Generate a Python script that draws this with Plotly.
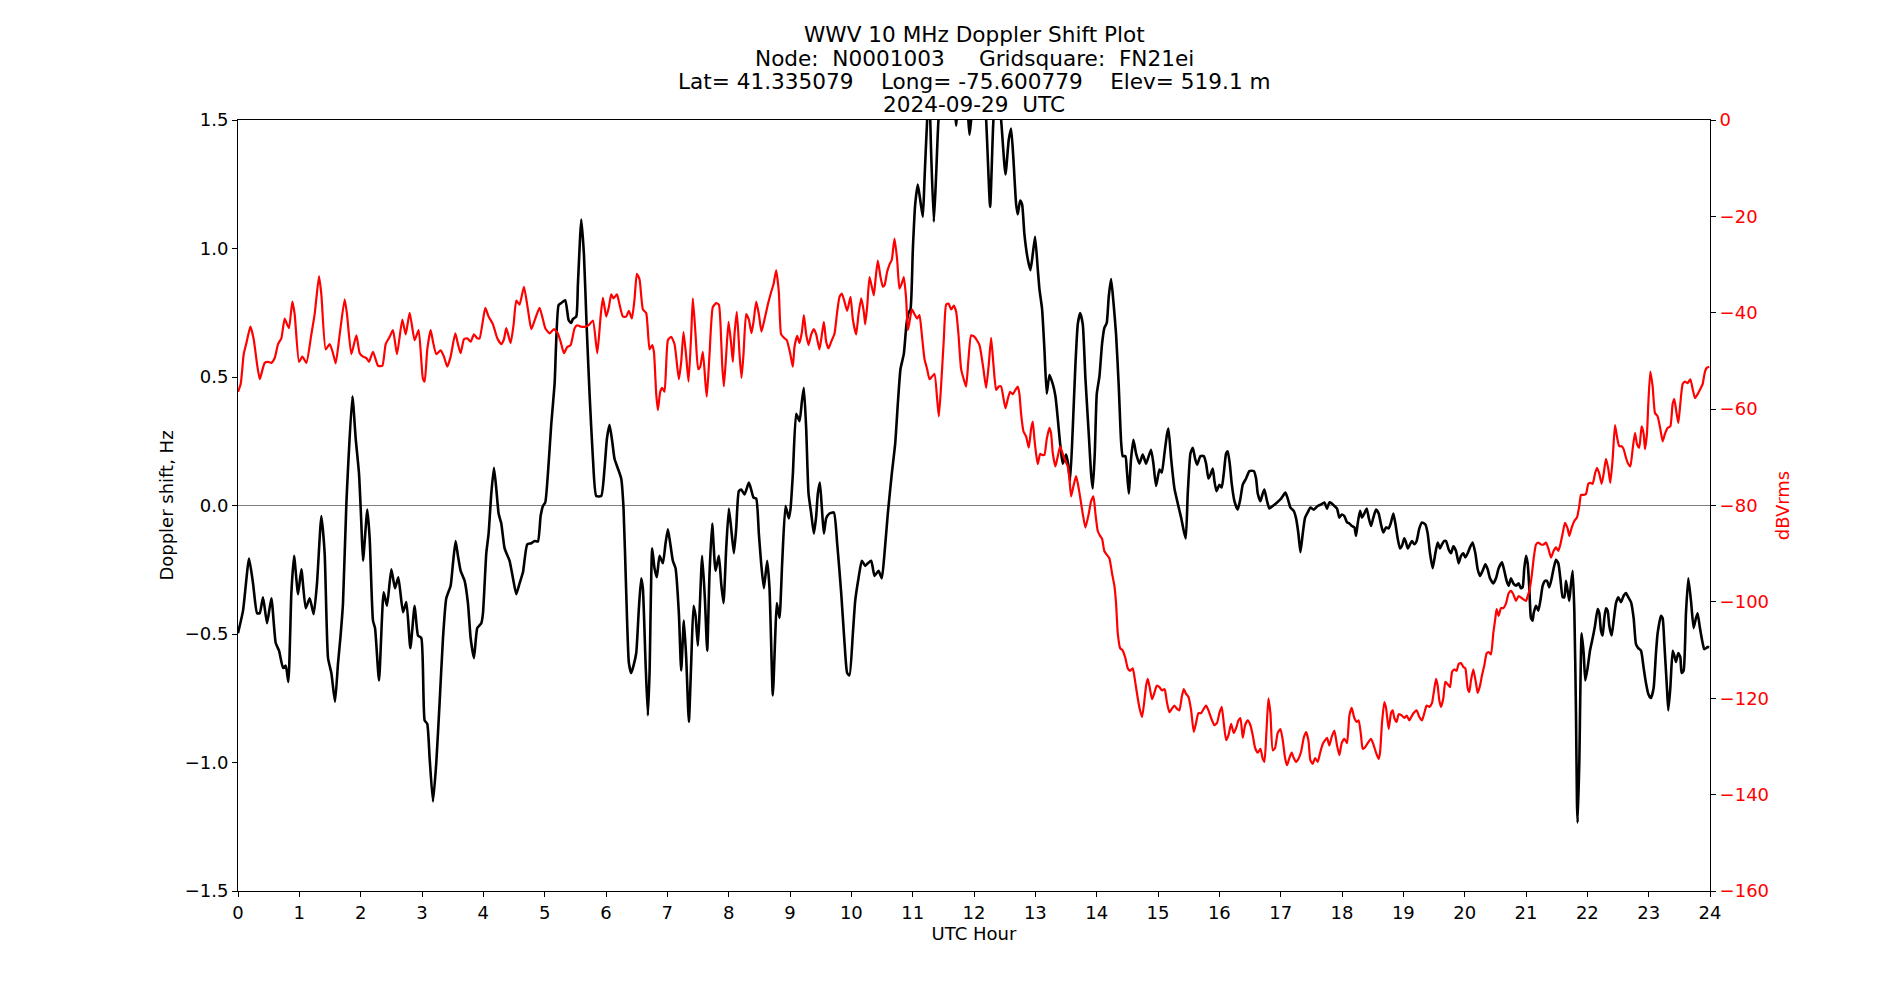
import plotly.graph_objects as go

# ---- Doppler shift (Hz) vs UTC hour, black trace, left axis ----
dop_hours = [
    0.000, 0.082, 0.180, 0.245, 0.311, 0.354, 0.408, 0.473, 0.544, 0.615, 0.669, 0.734, 0.778, 0.821,
    0.870, 0.914, 0.979, 1.033, 1.104, 1.169, 1.234, 1.288, 1.359, 1.413, 1.468, 1.522, 1.582, 1.631,
    1.669, 1.712, 1.767, 1.865, 1.919, 1.973, 2.011, 2.038, 2.109, 2.147, 2.201, 2.234, 2.299, 2.375,
    2.429, 2.500, 2.560, 2.614, 2.690, 2.745, 2.810, 2.880, 2.935, 2.989,
    3.043, 3.086, 3.124, 3.179, 3.233, 3.287, 3.342, 3.396, 3.467, 3.505, 3.548, 3.586, 3.630, 3.695,
    3.749, 3.793, 3.847, 3.901, 3.967, 3.994, 4.048, 4.086, 4.130, 4.173, 4.211, 4.249, 4.293, 4.347,
    4.428, 4.483, 4.537, 4.591, 4.646, 4.716, 4.782, 4.836, 4.890, 4.934, 4.972, 5.010, 5.053, 5.108,
    5.162, 5.227, 5.271, 5.336, 5.390, 5.434, 5.461, 5.515, 5.542, 5.597, 5.640, 5.683, 5.732, 5.787,
    5.841, 5.922,
    5.976, 6.015, 6.058, 6.101, 6.139, 6.194, 6.248, 6.286, 6.330, 6.373, 6.411, 6.449, 6.493, 6.536,
    6.574, 6.601, 6.645, 6.683, 6.710, 6.753, 6.791, 6.829, 6.873, 6.927, 6.971, 7.009, 7.047, 7.090,
    7.134, 7.188, 7.226, 7.270, 7.308, 7.351, 7.389, 7.427, 7.460, 7.498, 7.525, 7.568, 7.612, 7.650,
    7.688, 7.731, 7.786, 7.840, 7.878, 7.916, 7.960, 8.003, 8.041, 8.085, 8.123, 8.166, 8.204, 8.258,
    8.329, 8.367, 8.405, 8.449, 8.492, 8.530, 8.574, 8.628, 8.666, 8.720, 8.758, 8.785, 8.829, 8.872,
    8.927, 8.981,
    9.009, 9.047, 9.101, 9.155, 9.194, 9.226, 9.264, 9.302, 9.346, 9.389, 9.427, 9.454, 9.487, 9.520,
    9.552, 9.590, 9.644, 9.715, 9.769, 9.835, 9.889, 9.932, 9.970, 10.025, 10.063, 10.117, 10.171,
    10.226, 10.269, 10.324, 10.378, 10.443, 10.497, 10.541, 10.595, 10.660, 10.715, 10.758, 10.802,
    10.856, 10.899, 10.932, 10.965, 11.003, 11.041, 11.084, 11.128, 11.166, 11.193, 11.236, 11.269,
    11.302, 11.345, 11.383, 11.421, 11.520, 11.640, 11.690, 11.709, 11.730, 11.800, 11.890, 11.926,
    11.953, 12.050, 12.160, 12.198, 12.263, 12.317, 12.380, 12.442,
    12.513, 12.567, 12.605, 12.643, 12.687, 12.714, 12.752, 12.784, 12.822, 12.877, 12.920, 12.958,
    12.996, 13.040, 13.067, 13.110, 13.148, 13.186, 13.230, 13.284, 13.328, 13.366, 13.404, 13.447,
    13.502, 13.534, 13.567, 13.610, 13.654, 13.692, 13.730, 13.773, 13.817, 13.871, 13.909, 13.936,
    13.969, 14.002, 14.045, 14.088, 14.126, 14.164, 14.197, 14.235, 14.273, 14.316, 14.360, 14.398,
    14.425, 14.469, 14.490, 14.523, 14.561, 14.599, 14.643, 14.697, 14.751, 14.806, 14.849, 14.887,
    14.925, 14.968,
    15.024, 15.062, 15.105, 15.148, 15.170, 15.214, 15.268, 15.322, 15.377, 15.420, 15.453, 15.485,
    15.529, 15.567, 15.605, 15.637, 15.692, 15.746, 15.784, 15.822, 15.855, 15.893, 15.920, 15.953,
    16.001, 16.039, 16.072, 16.110, 16.137, 16.170, 16.202, 16.246, 16.300, 16.344, 16.382, 16.436,
    16.490, 16.561, 16.599, 16.626, 16.670, 16.708, 16.735, 16.778, 16.816, 16.871, 16.941, 17.007,
    17.077, 17.115, 17.159, 17.213, 17.251, 17.289, 17.322, 17.360, 17.398, 17.441, 17.485, 17.539,
    17.604, 17.659, 17.713, 17.756, 17.794, 17.832, 17.876, 17.919, 17.957, 17.995, 18.039, 18.082,
    18.120,
    18.163, 18.201, 18.229, 18.256, 18.294, 18.326, 18.364, 18.403, 18.435, 18.473, 18.511, 18.555,
    18.598, 18.636, 18.674, 18.718, 18.761, 18.799, 18.837, 18.870, 18.908, 18.946, 18.978, 19.016,
    19.044, 19.071, 19.109, 19.141, 19.179, 19.217, 19.261, 19.304, 19.359, 19.397, 19.435, 19.478,
    19.522, 19.560, 19.598, 19.630, 19.668, 19.696, 19.739, 19.777, 19.815, 19.859, 19.902, 19.940,
    19.978, 20.011, 20.049, 20.087, 20.130, 20.174, 20.212, 20.250, 20.293, 20.337, 20.375, 20.413,
    20.467, 20.511, 20.554, 20.608, 20.646, 20.684, 20.717, 20.755, 20.793, 20.837, 20.880, 20.918,
    20.945, 20.972, 21.000, 21.027, 21.054, 21.081, 21.108,
    21.125, 21.163, 21.201, 21.234, 21.272, 21.310, 21.342, 21.380, 21.419, 21.451, 21.489, 21.527,
    21.560, 21.598, 21.625, 21.652, 21.679, 21.706, 21.734, 21.761, 21.788, 21.815, 21.831, 21.842,
    21.869, 21.907, 21.940, 21.967, 22.005, 22.043, 22.087, 22.125, 22.168, 22.195, 22.223, 22.250,
    22.277, 22.304, 22.331, 22.358, 22.396, 22.429, 22.467, 22.505, 22.549, 22.592, 22.630, 22.668,
    22.712, 22.755, 22.793, 22.831, 22.875, 22.918, 22.956, 22.994, 23.038, 23.081, 23.119, 23.146,
    23.201, 23.228, 23.255, 23.298, 23.320, 23.353, 23.391, 23.418, 23.445, 23.483, 23.516, 23.537,
    23.570, 23.608, 23.646, 23.690, 23.733, 23.771, 23.798, 23.836, 23.880, 23.907, 23.961, 23.988,
]
dop_hz = [
    -0.497, -0.409, -0.206, -0.303, -0.419, -0.419, -0.357, -0.458, -0.361, -0.535, -0.565, -0.632, -0.623, -0.687,
    -0.341, -0.196, -0.345, -0.248, -0.400, -0.361, -0.423, -0.303, -0.041, -0.186, -0.594, -0.652, -0.764, -0.613,
    -0.516, -0.380, 0.008, 0.425, 0.260, 0.124, -0.070, -0.215, -0.016, -0.128, -0.448, -0.477, -0.681, -0.338,
    -0.390, -0.248, -0.322, -0.279, -0.415, -0.376, -0.555, -0.390, -0.506, -0.516,
    -0.836, -0.850, -0.982, -1.152, -1.001, -0.768, -0.516, -0.361, -0.312, -0.225, -0.138, -0.196, -0.254, -0.293,
    -0.380, -0.516, -0.594, -0.477, -0.458, -0.419, -0.186, -0.109, 0.047, 0.147, 0.066, -0.031, -0.070, -0.167,
    -0.215, -0.283, -0.345, -0.303, -0.260, -0.151, -0.147, -0.138, -0.140, -0.041, -0.002, 0.012, 0.124, 0.318,
    0.473, 0.780, 0.788, 0.799, 0.722, 0.710, 0.726, 0.735, 0.861, 1.113, 0.978, 0.706, 0.435, 0.182,
    0.037, 0.037,
    0.144, 0.260, 0.314, 0.250, 0.182, 0.144, 0.105, -0.012, -0.341, -0.613, -0.652, -0.623, -0.574, -0.400,
    -0.283, -0.322, -0.613, -0.817, -0.652, -0.167, -0.244, -0.279, -0.196, -0.225, -0.147, -0.093, -0.147, -0.215,
    -0.244, -0.419, -0.642, -0.448, -0.594, -0.842, -0.613, -0.390, -0.429, -0.545, -0.419, -0.196, -0.361, -0.565,
    -0.264, -0.070, -0.254, -0.196, -0.303, -0.380, -0.167, -0.012, -0.089, -0.186, -0.089, 0.056, 0.062, 0.043,
    0.089, 0.062, 0.031, 0.027, -0.109, -0.225, -0.322, -0.215, -0.322, -0.739, -0.516, -0.380, -0.438, -0.225,
    -0.002, -0.050,
    -0.012, 0.124, 0.357, 0.328, 0.405, 0.458, 0.299, 0.047, -0.031, -0.109, -0.041, 0.047, 0.089, -0.012,
    -0.109, -0.050, -0.031, -0.027, -0.147, -0.341, -0.535, -0.652, -0.661, -0.497, -0.371, -0.283, -0.215,
    -0.235, -0.225, -0.215, -0.274, -0.254, -0.283, -0.186, -0.031, 0.124, 0.241, 0.396, 0.532,
    0.590, 0.706, 0.749, 0.764, 0.997, 1.172, 1.249, 1.181, 1.123, 1.269, 1.500, 1.620,
    1.366, 1.104, 1.288, 1.500, 1.720, 1.640, 1.540, 1.478, 1.540, 1.680, 1.560, 1.443,
    1.500, 1.680, 1.600, 1.500, 1.162, 1.500, 1.640, 1.501,
    1.288, 1.424, 1.467, 1.346, 1.172, 1.133, 1.187, 1.172, 1.055, 0.958, 0.916, 0.978,
    1.046, 0.919, 0.842, 0.764, 0.609, 0.435, 0.508, 0.473, 0.425, 0.338, 0.241, 0.163,
    0.198, 0.163, 0.095, 0.299, 0.551, 0.706, 0.749, 0.706, 0.493, 0.279, 0.124, 0.066,
    0.202, 0.435, 0.502, 0.629, 0.691, 0.710, 0.813, 0.881, 0.793, 0.667, 0.464, 0.250,
    0.192, 0.192, 0.144, 0.047, 0.182, 0.256, 0.202, 0.163, 0.198, 0.163, 0.192, 0.217,
    0.163, 0.076,
    0.140, 0.128, 0.202, 0.279, 0.299, 0.182, 0.066, 0.008, -0.047, -0.099, -0.128, 0.047,
    0.202, 0.225, 0.182, 0.159, 0.192, 0.192, 0.163, 0.105, 0.120, 0.144, 0.095, 0.056,
    0.081, 0.070, 0.124, 0.202, 0.211, 0.163, 0.085, 0.017, -0.016, 0.027, 0.081, 0.105,
    0.134, 0.134, 0.105, 0.047, 0.017, 0.047, 0.062, 0.017, -0.012, -0.002, 0.012, 0.027,
    0.050, 0.027, -0.008, -0.021, -0.050, -0.109, -0.182, -0.109, -0.047, -0.027, -0.008, -0.016,
    -0.002, 0.004, 0.012, -0.012, 0.012, 0.008, -0.002, -0.012, -0.047, -0.035, -0.041, -0.066,
    -0.070,
    -0.080, -0.085, -0.118, -0.070, -0.021, -0.047, -0.031, -0.012, -0.047, -0.080, -0.047, -0.016,
    -0.031, -0.074, -0.105, -0.085, -0.089, -0.066, -0.031, -0.070, -0.128, -0.167, -0.157, -0.128,
    -0.144, -0.167, -0.151, -0.138, -0.151, -0.138, -0.089, -0.066, -0.074, -0.109, -0.186, -0.244,
    -0.186, -0.144, -0.167, -0.151, -0.138, -0.138, -0.171, -0.186, -0.159, -0.177, -0.225, -0.196,
    -0.186, -0.202, -0.186, -0.163, -0.144, -0.186, -0.248, -0.274, -0.254, -0.229, -0.248, -0.283,
    -0.303, -0.283, -0.244, -0.221, -0.254, -0.293, -0.312, -0.283, -0.303, -0.312, -0.303, -0.322,
    -0.318, -0.244, -0.196, -0.225, -0.322, -0.438, -0.448,
    -0.419, -0.390, -0.409, -0.371, -0.312, -0.293, -0.293, -0.318, -0.283, -0.244, -0.211, -0.225,
    -0.283, -0.357, -0.357, -0.293, -0.332, -0.371, -0.303, -0.254, -0.409, -0.807, -1.156, -1.234,
    -1.001, -0.497, -0.574, -0.681, -0.632, -0.565, -0.516, -0.468, -0.403, -0.419, -0.487, -0.506,
    -0.438, -0.400, -0.409, -0.468, -0.506, -0.448, -0.380, -0.357, -0.376, -0.351, -0.341, -0.357,
    -0.376, -0.438, -0.539, -0.555, -0.565, -0.632, -0.691, -0.733, -0.749, -0.710, -0.574, -0.497,
    -0.429, -0.438, -0.535, -0.710, -0.797, -0.710, -0.565, -0.584, -0.609, -0.574, -0.590, -0.652,
    -0.642, -0.419, -0.283, -0.371, -0.477, -0.438, -0.419, -0.477, -0.535, -0.559, -0.551, -0.551,
]

# ---- Received signal level (dBVrms) vs UTC hour, red trace, right axis ----
pwr_hours = [
    0.000, 0.044, 0.093, 0.137, 0.202, 0.256, 0.311, 0.354, 0.381, 0.435, 0.490, 0.544, 0.598, 0.653,
    0.707, 0.761, 0.799, 0.832, 0.886, 0.924, 0.995, 1.049, 1.115, 1.196, 1.250, 1.321, 1.359, 1.430,
    1.495, 1.549, 1.593, 1.658, 1.739, 1.777, 1.848, 1.930, 1.984, 2.038, 2.093, 2.136, 2.201, 2.283,
    2.353, 2.408, 2.473, 2.527, 2.592, 2.679, 2.734, 2.799, 2.880, 2.945, 3.016, 3.043,
    3.086, 3.141, 3.179, 3.233, 3.304, 3.358, 3.412, 3.467, 3.543, 3.586, 3.630, 3.684, 3.738, 3.793,
    3.847, 3.901, 3.939, 4.032, 4.086, 4.157, 4.227, 4.293, 4.336, 4.374, 4.445, 4.494, 4.537, 4.591,
    4.662, 4.727, 4.782, 4.847, 4.917, 4.972, 5.010, 5.080, 5.151, 5.216, 5.271, 5.314, 5.368, 5.423,
    5.488, 5.531, 5.597, 5.662, 5.732, 5.787, 5.858, 5.912, 5.950, 6.004,
    6.047, 6.085, 6.123, 6.178, 6.221, 6.275, 6.330, 6.373, 6.422, 6.465, 6.503, 6.547, 6.601, 6.656,
    6.710, 6.753, 6.781, 6.819, 6.846, 6.884, 6.916, 6.954, 7.009, 7.063, 7.117, 7.188, 7.226, 7.264,
    7.308, 7.346, 7.389, 7.416, 7.460, 7.503, 7.536, 7.579, 7.623, 7.644, 7.688, 7.742, 7.797, 7.840,
    7.867, 7.894, 7.922, 7.960, 7.998, 8.041, 8.068, 8.095, 8.133, 8.177, 8.209, 8.242, 8.285, 8.329,
    8.372, 8.405, 8.449, 8.492, 8.535, 8.584, 8.639, 8.693, 8.731, 8.775, 8.818, 8.856, 8.910, 8.948,
    9.003, 9.046, 9.073,
    9.117, 9.155, 9.194, 9.226, 9.264, 9.302, 9.346, 9.389, 9.427, 9.481, 9.520, 9.552, 9.590, 9.628,
    9.672, 9.726, 9.769, 9.807, 9.845, 9.889, 9.932, 9.987, 10.025, 10.079, 10.117, 10.161, 10.204,
    10.226, 10.258, 10.296, 10.334, 10.367, 10.394, 10.432, 10.476, 10.514, 10.541, 10.584, 10.622,
    10.660, 10.704, 10.747, 10.785, 10.823, 10.856, 10.894, 10.921, 10.949, 10.987, 11.030, 11.073,
    11.111, 11.149, 11.193, 11.236, 11.274, 11.312, 11.356, 11.399, 11.427, 11.465, 11.508, 11.546,
    11.584, 11.628, 11.671, 11.709, 11.747, 11.790, 11.845, 11.872, 11.910, 11.953, 12.008, 12.089,
    12.154, 12.198, 12.241, 12.279, 12.317, 12.361, 12.404, 12.442, 12.469, 12.513, 12.551, 12.589,
    12.632, 12.676, 12.714, 12.741, 12.768, 12.806, 12.850, 12.893, 12.931, 12.958, 12.985, 13.013,
    13.040, 13.078, 13.110, 13.148, 13.186, 13.230, 13.257, 13.284, 13.328, 13.366, 13.404, 13.447,
    13.491, 13.529, 13.556, 13.583, 13.621, 13.665, 13.708, 13.773, 13.817, 13.871, 13.909, 13.947,
    13.980, 14.018, 14.056, 14.088, 14.126, 14.164, 14.208, 14.251, 14.289, 14.316, 14.344, 14.382,
    14.425, 14.469, 14.507, 14.545, 14.588, 14.632, 14.670, 14.707, 14.740, 14.778, 14.806, 14.833,
    14.860, 14.903, 14.941, 14.979, 15.023, 15.066, 15.104,
    15.116, 15.148, 15.186, 15.225, 15.268, 15.311, 15.349, 15.388, 15.420, 15.458, 15.496, 15.540,
    15.583, 15.621, 15.659, 15.703, 15.746, 15.784, 15.822, 15.866, 15.920, 15.963, 16.001, 16.039,
    16.072, 16.110, 16.148, 16.192, 16.235, 16.273, 16.311, 16.344, 16.382, 16.420, 16.463, 16.507,
    16.545, 16.583, 16.626, 16.670, 16.708, 16.735, 16.767, 16.800, 16.833, 16.871, 16.909, 16.952,
    16.996, 17.034, 17.072, 17.104, 17.142, 17.180, 17.213, 17.251, 17.289, 17.333, 17.376, 17.414,
    17.452, 17.485, 17.523, 17.561, 17.604, 17.648, 17.686, 17.724, 17.756, 17.794, 17.832, 17.876,
    17.919, 17.957, 17.995, 18.039, 18.082, 18.120,
    18.158, 18.201, 18.240, 18.272, 18.310, 18.337, 18.381, 18.419, 18.473, 18.511, 18.555, 18.598,
    18.620, 18.652, 18.690, 18.718, 18.761, 18.799, 18.826, 18.853, 18.891, 18.924, 18.978, 19.016,
    19.054, 19.098, 19.141, 19.179, 19.217, 19.261, 19.304, 19.342, 19.380, 19.424, 19.467, 19.489,
    19.533, 19.560, 19.587, 19.614, 19.652, 19.685, 19.723, 19.761, 19.793, 19.831, 19.869, 19.902,
    19.940, 19.978, 20.011, 20.049, 20.076, 20.103, 20.141, 20.185, 20.212, 20.250, 20.282, 20.320,
    20.358, 20.391, 20.429, 20.467, 20.500, 20.521, 20.554, 20.592, 20.630, 20.674, 20.717, 20.755,
    20.793, 20.837, 20.880,
    21.000, 21.027, 21.054, 21.093, 21.125, 21.163, 21.201, 21.245, 21.288, 21.326, 21.364, 21.408,
    21.451, 21.489, 21.527, 21.560, 21.598, 21.636, 21.679, 21.706, 21.745, 21.788, 21.831, 21.869,
    21.897, 21.940, 21.978, 22.016, 22.049, 22.087, 22.125, 22.157, 22.195, 22.233, 22.266, 22.304,
    22.342, 22.375, 22.413, 22.451, 22.483, 22.521, 22.559, 22.592, 22.630, 22.668, 22.701, 22.739,
    22.777, 22.809, 22.847, 22.885, 22.918, 22.940, 22.972, 22.994, 23.027, 23.065, 23.103, 23.146,
    23.190, 23.228, 23.266, 23.309, 23.353, 23.391, 23.418, 23.445, 23.483, 23.516, 23.554, 23.592,
    23.635, 23.679, 23.717, 23.755, 23.798, 23.842, 23.880, 23.918, 23.950, 23.988,
]
pwr_db = [
    -56.4, -54.8, -48.6, -46.3, -42.9, -45.5, -50.7, -53.8, -52.7, -50.4, -50.2, -50.4, -49.4, -46.5,
    -45.3, -41.2, -42.4, -43.2, -37.7, -40.3, -50.2, -49.1, -50.4, -44.5, -40.3, -32.4, -36.2, -47.6,
    -46.5, -48.4, -50.5, -44.5, -37.2, -40.3, -48.6, -44.7, -48.4, -49.1, -49.4, -50.2, -48.1, -51.0,
    -51.0, -46.5, -45.0, -43.6, -48.6, -41.4, -44.5, -40.0, -45.7, -43.6, -53.8, -54.3,
    -47.6, -43.6, -46.0, -48.6, -47.8, -49.1, -51.2, -49.1, -44.3, -46.5, -48.4, -45.5, -45.3, -46.0,
    -44.5, -45.3, -45.3, -39.0, -40.8, -42.4, -45.3, -46.5, -45.5, -43.2, -46.3, -42.4, -37.5, -38.3,
    -34.6, -39.3, -43.4, -41.2, -39.0, -41.4, -43.2, -44.3, -43.4, -44.3, -46.5, -48.4, -47.1, -46.7,
    -43.2, -42.6, -42.9, -42.9, -42.4, -41.6, -48.4, -40.8, -36.9, -40.8,
    -38.8, -36.2, -37.0, -36.2, -38.3, -40.8, -40.8, -39.6, -41.2, -37.2, -31.9, -33.1, -39.3, -40.1,
    -47.6, -46.7, -48.1, -56.9, -60.2, -56.4, -55.6, -56.4, -45.7, -45.0, -46.5, -53.8, -50.2, -44.0,
    -49.1, -54.3, -44.5, -37.0, -44.5, -51.7, -51.2, -48.1, -54.8, -57.4, -48.6, -38.8, -38.0, -38.3,
    -42.4, -50.7, -55.3, -48.6, -41.9, -46.5, -50.2, -44.5, -39.8, -48.6, -53.5, -48.6, -40.3, -41.4,
    -44.2, -41.9, -37.7, -40.3, -43.9, -41.4, -38.3, -35.7, -34.1, -31.2, -35.7, -44.5, -45.3, -45.7,
    -48.4, -51.2, -47.1,
    -44.8, -46.3, -44.0, -40.5, -44.5, -46.7, -44.5, -43.4, -44.5, -47.6, -44.5, -41.9, -46.0, -47.4,
    -46.0, -44.3, -39.8, -36.7, -36.0, -37.7, -39.6, -36.7, -41.4, -44.5, -40.3, -37.0, -39.8,
    -42.4, -38.8, -32.6, -34.6, -36.4, -33.1, -29.2, -32.6, -34.6, -34.3, -31.5, -30.0,
    -29.0, -24.6, -29.0, -35.0, -33.9, -32.6, -37.2, -43.6, -41.9, -39.3, -40.3, -41.2,
    -40.5, -44.5, -49.6, -51.7, -53.8, -53.3, -52.7, -57.9, -61.5, -54.8, -45.5, -38.3,
    -38.1, -39.3, -38.5, -39.8, -44.5, -51.7, -54.3, -55.3, -49.6, -44.7, -45.0, -46.7,
    -51.7, -55.6, -50.7, -45.2, -50.7, -56.0, -55.3, -55.3, -56.9, -59.8, -57.9, -56.4,
    -56.9, -56.0, -55.3, -56.9, -61.0, -64.6, -65.7, -68.0, -64.1, -62.6, -66.2, -69.3,
    -71.4, -69.3, -69.5, -69.5, -66.2, -63.9, -65.1, -69.1, -71.9, -69.8, -67.7, -69.3,
    -70.8, -71.9, -74.5, -78.1, -76.0, -73.9, -76.5, -81.7, -84.6, -81.7, -79.1, -78.1,
    -81.7, -85.3, -86.3, -86.9, -89.5, -90.2, -91.0, -94.1, -96.7, -100.3, -106.5, -109.6,
    -110.1, -111.7, -113.8, -114.3, -113.8, -116.9, -120.0, -122.5, -123.9, -120.5, -117.4, -116.0,
    -117.4, -120.2, -118.9, -117.4, -117.7, -118.4, -118.1,
    -118.4, -121.0, -122.9, -122.2, -121.5, -122.2, -122.5, -119.7, -118.1, -119.1, -119.7, -122.5,
    -127.0, -125.1, -123.1, -123.1, -122.2, -121.5, -122.5, -124.1, -125.6, -125.1, -123.1, -121.8,
    -125.1, -128.7, -127.7, -125.3, -127.2, -126.2, -124.6, -124.1, -128.2, -125.6, -124.6, -125.6,
    -127.7, -130.3, -131.3, -130.5, -132.6, -133.2, -127.2, -120.0, -123.1, -130.8, -130.3, -127.2,
    -126.4, -128.7, -132.4, -133.9, -132.4, -131.3, -132.4, -133.2, -132.6, -131.1, -128.2, -127.0,
    -128.7, -132.9, -133.6, -132.4, -133.2, -131.1, -129.5, -128.7, -128.2, -129.8, -128.0, -126.7,
    -129.8, -131.8, -129.3, -128.4, -129.3, -123.6,
    -122.0, -124.1, -124.9, -124.6, -127.7, -130.5, -130.1, -129.3, -128.4, -129.5, -131.3, -132.6,
    -131.3, -125.1, -120.8, -122.0, -126.4, -123.1, -122.5, -124.1, -124.9, -123.3, -123.6, -124.1,
    -123.6, -124.6, -123.6, -122.9, -122.5, -123.9, -124.6, -123.1, -121.5, -121.8, -121.0, -119.4,
    -116.0, -117.4, -120.5, -121.8, -120.0, -116.6, -117.1, -117.7, -114.6, -114.0, -114.3, -112.9,
    -112.7, -113.5, -113.8, -117.9, -118.7, -116.3, -114.0, -116.9, -118.9, -117.4, -115.3, -113.2,
    -110.7, -110.4, -110.9, -106.5, -103.4, -101.5, -102.9, -101.3, -101.3, -100.3, -98.2, -97.7,
    -98.4, -99.8, -98.8,
    -99.8, -98.8, -97.7, -94.6, -91.0, -88.1, -87.7, -88.1, -88.1, -87.7, -88.9, -90.8,
    -89.4, -88.7, -89.4, -88.1, -85.8, -83.6, -84.8, -86.3, -84.6, -83.2, -82.5, -80.1,
    -77.8, -77.8, -77.6, -75.5, -75.3, -75.5, -73.4, -72.2, -73.4, -75.5, -73.4, -70.3,
    -72.4, -75.3, -70.3, -63.3, -65.7, -67.7, -67.7, -68.3, -70.1, -71.4, -71.9, -68.3,
    -64.9, -67.2, -68.0, -63.6, -65.1, -68.3, -65.1, -58.9, -52.2, -55.3, -60.8, -61.5,
    -64.1, -66.7, -65.1, -63.9, -63.6, -58.9, -57.9, -60.0, -62.9, -58.9, -54.8, -54.3,
    -54.6, -53.8, -55.8, -57.7, -56.9, -55.8, -54.8, -52.2, -51.4, -51.2,
]

# ---- Text and tick labels ----
title_lines = [
    "WWV 10 MHz Doppler Shift Plot",
    "Node:  N0001003     Gridsquare:  FN21ei",
    "Lat= 41.335079    Long= -75.600779    Elev= 519.1 m",
    "2024-09-29  UTC",
]
x_ticks = list(range(0, 25))
y_ticks = [-1.5, -1.0, -0.5, 0.0, 0.5, 1.0, 1.5]
y_tick_text = ["\u22121.5", "\u22121.0", "\u22120.5", "0.0", "0.5", "1.0", "1.5"]
y2_ticks = [0, -20, -40, -60, -80, -100, -120, -140, -160]
y2_tick_text = ["0", "\u221220", "\u221240", "\u221260", "\u221280", "\u2212100", "\u2212120", "\u2212140", "\u2212160"]

FONT = "DejaVu Sans"
TICK_SIZE = 18
LABEL_SIZE = 18

fig = go.Figure()
fig.add_trace(go.Scatter(
    x=dop_hours, y=dop_hz, mode="lines", name="Doppler shift",
    line=dict(color="black", width=2.6, shape="spline", smoothing=0.5),
    yaxis="y", hoverinfo="skip",
))
fig.add_trace(go.Scatter(
    x=pwr_hours, y=pwr_db, mode="lines", name="dBVrms",
    line=dict(color="#ff0000", width=2.2, shape="spline", smoothing=0.5),
    yaxis="y2", hoverinfo="skip",
))

# Title lines (positioned individually to reproduce tight line spacing)
plot_top, plot_bottom = 120, 891
plot_h = plot_bottom - plot_top
line_centers = [35.0, 58.2, 81.4, 104.6]
annotations = []
for txt, yc in zip(title_lines, line_centers):
    annotations.append(dict(
        text=txt, xref="paper", yref="paper", x=0.5, y=(plot_bottom - yc) / plot_h,
        xanchor="center", yanchor="middle", showarrow=False,
        font=dict(family=FONT, size=21.6, color="black"),
    ))

fig.update_layout(
    width=1900, height=1000,
    margin=dict(l=238, r=190, t=plot_top, b=1000 - plot_bottom, autoexpand=False),
    paper_bgcolor="white", plot_bgcolor="white",
    showlegend=False,
    font=dict(family=FONT, size=TICK_SIZE, color="black"),
    annotations=annotations,
    xaxis=dict(
        range=[0, 24], tickmode="array", tickvals=x_ticks, ticktext=[str(v) for v in x_ticks],
        showgrid=False, zeroline=False, showline=True, linecolor="black", linewidth=1, mirror=True,
        ticks="outside", ticklen=5, tickwidth=1, tickcolor="black",
        tickfont=dict(family=FONT, size=TICK_SIZE, color="black"),
        title=dict(text="UTC Hour", font=dict(family=FONT, size=LABEL_SIZE, color="black"), standoff=2),
    ),
    yaxis=dict(
        range=[-1.5, 1.5], tickmode="array", tickvals=y_ticks, ticktext=y_tick_text,
        showgrid=False, zeroline=True, zerolinecolor="#808080", zerolinewidth=1.2,
        showline=True, linecolor="black", linewidth=1,
        ticks="outside", ticklen=5, tickwidth=1, tickcolor="black",
        tickfont=dict(family=FONT, size=TICK_SIZE, color="black"),
        title=dict(text="Doppler shift, Hz", font=dict(family=FONT, size=LABEL_SIZE, color="black"), standoff=6),
    ),
    yaxis2=dict(
        range=[-160, 0], overlaying="y", side="right", anchor="x",
        tickmode="array", tickvals=y2_ticks, ticktext=y2_tick_text,
        showgrid=False, zeroline=False, showline=True, linecolor="black", linewidth=1,
        ticks="outside", ticklen=5, tickwidth=1, tickcolor="black",
        tickfont=dict(family=FONT, size=TICK_SIZE, color="#ff0000"),
        title=dict(text="dBVrms", font=dict(family=FONT, size=LABEL_SIZE, color="#ff0000"), standoff=8),
    ),
)

fig.write_html("out.html")
